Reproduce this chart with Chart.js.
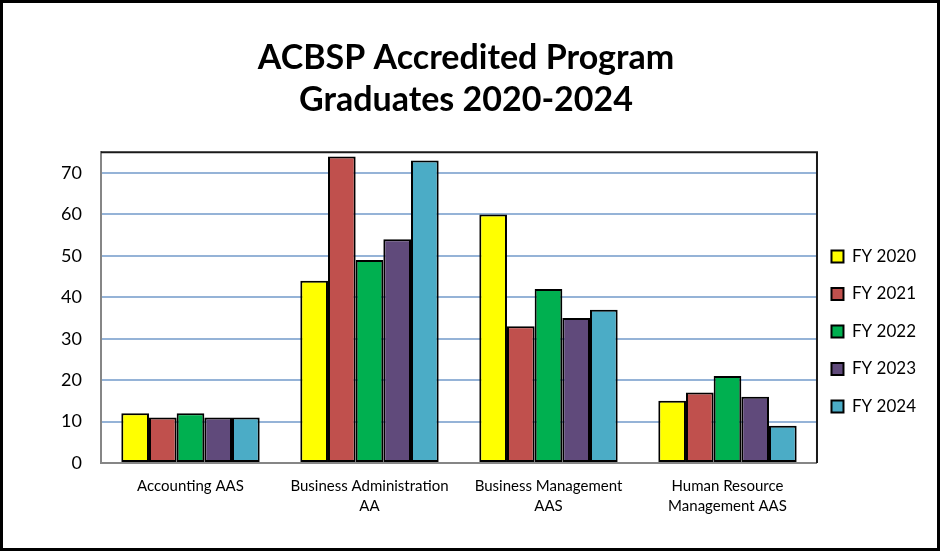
<!DOCTYPE html>
<html>
<head>
<meta charset="utf-8">
<script src="https://cdn.jsdelivr.net/npm/chart.js@4"></script>
<style>
  html, body { margin: 0; padding: 0; background: #fff; }
  #wrap { width: 940px; height: 551px; }
</style>
</head>
<body>
<div id="wrap"><canvas id="gradChart" width="940" height="551"></canvas></div>
<script>
const categories = [
  ['Accounting AAS'],
  ['Business Administration', 'AA'],
  ['Business Management', 'AAS'],
  ['Human Resource', 'Management AAS']
];
const seriesNames = ['FY 2020', 'FY 2021', 'FY 2022', 'FY 2023', 'FY 2024'];
const fy2020 = [12, 44, 60, 15];
const fy2021 = [11, 74, 33, 17];
const fy2022 = [12, 49, 42, 21];
const fy2023 = [11, 54, 35, 16];
const fy2024 = [11, 73, 37, 9];
const seriesColors = ['#FFFF00', '#C0504D', '#00B050', '#604A7B', '#4BACC6'];
const titleLines = ['ACBSP Accredited Program', 'Graduates 2020-2024'];

const FONT = 'Lato, "Liberation Sans", sans-serif';

// white page + black frame, and the plot area border (top/right dark)
const frame = {
  id: 'frame',
  afterLayout(chart) {
    // Excel puts the legend a bit lower and closer to the plot than Chart.js does
    const lg = chart.legend;
    lg.top += 63; lg.bottom += 63;
    lg.left -= 6; lg.right -= 6;
  },
  beforeDraw(chart) {
    const ctx = chart.ctx;
    ctx.save();
    ctx.fillStyle = '#fff';
    ctx.fillRect(0, 0, chart.width, chart.height);
    ctx.restore();
  },
  afterDraw(chart) {
    const ctx = chart.ctx;
    const a = chart.chartArea;
    ctx.save();
    ctx.strokeStyle = '#1a1a1a';
    ctx.lineWidth = 2;
    ctx.beginPath();
    ctx.moveTo(a.left, a.top);
    ctx.lineTo(a.right, a.top);
    ctx.lineTo(a.right, a.bottom);
    ctx.stroke();
    ctx.strokeStyle = '#000';
    ctx.lineWidth = 3;
    ctx.strokeRect(1.5, 1.5, chart.width - 3, chart.height - 3);
    ctx.restore();
  }
};

const allSeries = [fy2020, fy2021, fy2022, fy2023, fy2024];

new Chart(document.getElementById('gradChart'), {
  type: 'bar',
  data: {
    labels: categories,
    datasets: allSeries.map((vals, i) => ({
      label: seriesNames[i],
      data: vals,
      backgroundColor: seriesColors[i],
      borderColor: '#000',
      borderWidth: 2,
      borderSkipped: false,
      barPercentage: 1,
      categoryPercentage: 0.773
    }))
  },
  options: {
    responsive: false,
    animation: false,
    devicePixelRatio: 1,
    layout: { padding: { left: 0, right: 8, top: 8, bottom: 22 } },
    plugins: {
      tooltip: { enabled: false },
      title: {
        display: true,
        text: titleLines,
        color: '#000',
        font: { family: FONT, size: 34, weight: 'bold', lineHeight: 1.24 },
        padding: { top: 29, bottom: 31 }
      },
      legend: {
        position: 'right',
        align: 'center',
        labels: {
          color: '#000',
          boxWidth: 12,
          boxHeight: 12,
          padding: 20.5,
          font: { family: FONT, size: 17 }
        }
      }
    },
    scales: {
      x: {
        grid: { display: false, drawTicks: false },
        border: { color: '#868686', width: 2 },
        ticks: {
          color: '#000',
          padding: 13,
          maxRotation: 0,
          autoSkip: false,
          font: { family: FONT, size: 15, lineHeight: 1.35 }
        },
        afterFit(scale) { scale.height = 66; }
      },
      y: {
        min: 0,
        max: 75,
        grid: { color: '#95B3D7', lineWidth: 2, drawTicks: false },
        border: { color: '#868686', width: 2 },
        ticks: {
          stepSize: 10,
          color: '#000',
          padding: 19,
          font: { family: FONT, size: 18 }
        },
        afterBuildTicks(scale) {
          scale.ticks = scale.ticks.filter(t => t.value % 10 === 0);
        },
        afterFit(scale) { scale.width = 101; }
      }
    }
  },
  plugins: [frame]
});
</script>
</body>
</html>
